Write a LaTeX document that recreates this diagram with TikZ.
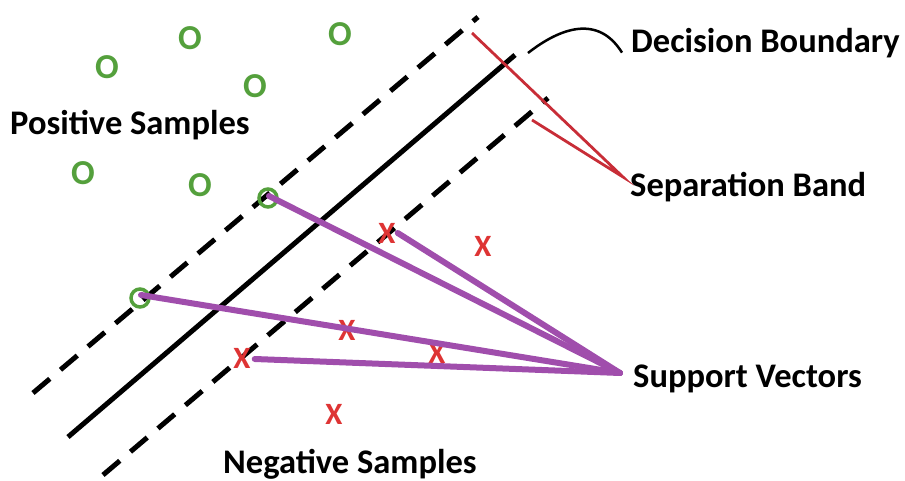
\documentclass[tikz,border=0pt]{standalone}
\usepackage{fontspec}
\setmainfont{Carlito}
\definecolor{posgreen}{RGB}{84,160,60}
\definecolor{negred}{RGB}{222,52,52}
\definecolor{svpurple}{RGB}{160,78,172}
\definecolor{bandred}{RGB}{200,45,55}
\begin{document}
\begin{tikzpicture}[x=1pt,y=-1pt,
  txtlabel/.style={font=\fontsize{34.5}{34.5}\selectfont\bfseries, text=black, inner sep=0pt, anchor=base west},
  posmark/.style={font=\fontsize{35}{35}\selectfont\bfseries, text=posgreen, inner sep=0pt},
  svmark/.style={circle, draw=posgreen, line width=3.5pt, minimum size=18pt, inner sep=0pt},
  negmark/.style={font=\fontsize{31}{31}\selectfont\bfseries, text=negred, inner sep=0pt},
  marginline/.style={line width=5pt, dash pattern=on 22pt off 14pt},
  boundary/.style={line width=5pt},
  svline/.style={svpurple, line width=6pt, line cap=round},
  bandline/.style={bandred, line width=2.8pt},
  callout/.style={line width=2.5pt}]
\useasboundingbox (0,0) rectangle (905,481);
% lines
\coordinate (u1) at (33,393); \coordinate (u2) at (478,17);
\coordinate (m1) at (68,437); \coordinate (m2) at (515,55);
\coordinate (l1) at (103,475); \coordinate (l2) at (548,98);
\draw[marginline] (u1) -- (u2);
\draw[boundary] (m1) -- (m2);
\draw[marginline] (l1) -- (l2);
% labels
\node[txtlabel] (db) at (631,53) {Decision Boundary};
\node[txtlabel] (sb) at (630,197) {Separation Band};
\node[txtlabel] (sv) at (633,387) {Support Vectors};
\node[txtlabel] (ps) at (10,135) {Positive Samples};
\node[txtlabel] (ns) at (223,473) {Negative Samples};
% callouts
\coordinate (dbs) at (528,53);
\draw[callout] (dbs) .. controls (560,28) and (598,14) .. ([xshift=-9pt,yshift=-9pt]db.west);
\coordinate (sbp) at (623,177);
\coordinate (r1) at (472,33);
\coordinate (r2) at (532,120);
\draw[bandline] (r1) -- (sbp) -- (r2);
% samples
\node[posmark] (o1) at (190,38) {O};
\node[posmark] (o2) at (340,34) {O};
\node[posmark] (o3) at (107,67) {O};
\node[posmark] (o4) at (255,86) {O};
\node[posmark] (o5) at (83,173) {O};
\node[posmark] (o6) at (200,185) {O};
\node[svmark] (o7) at (268,198) {};
\node[svmark] (o8) at (140,298) {};
\node[negmark] (x1) at (387,233) {X};
\node[negmark] (x2) at (483,246) {X};
\node[negmark] (x3) at (347,330) {X};
\node[negmark] (x4) at (437,353) {X};
\node[negmark] (x5) at (242,358) {X};
\node[negmark] (x6) at (334,414) {X};
% support vector connectors
\coordinate (svp) at (620,373);
\draw[svline] ([xshift=1pt,yshift=2pt]o7.center) -- (svp);
\draw[svline] ([xshift=2pt]x1.east) -- (svp);
\draw[svline] ([xshift=1pt,yshift=3pt]o8.center) -- (svp);
\draw[svline] ([xshift=4pt,yshift=-1pt]x5.east) -- (svp);
\end{tikzpicture}
\end{document}
